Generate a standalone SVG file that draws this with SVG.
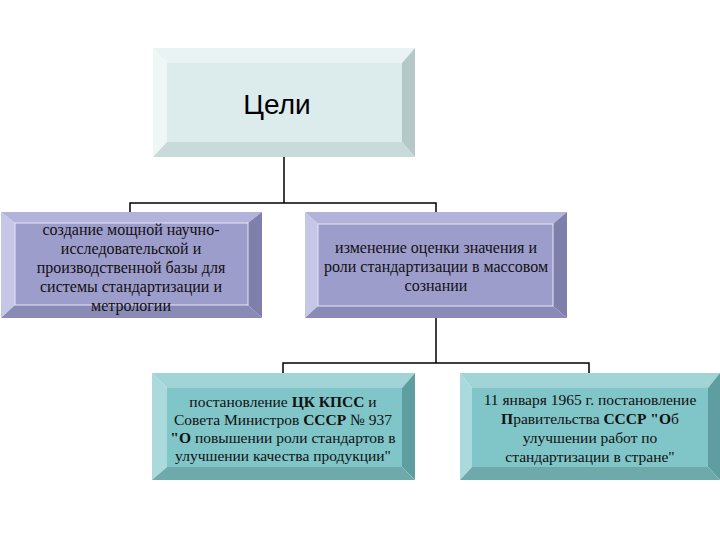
<svg xmlns="http://www.w3.org/2000/svg" width="720" height="540" viewBox="0 0 720 540">
<style>
.t{font-family:"Liberation Serif","Times New Roman",serif;font-size:16px;fill:#111;text-anchor:middle}
.s{font-size:15.5px}
.b{font-weight:bold}
.c{stroke:#000;stroke-width:1.5;fill:none}
.g .f{fill:#dcebeb}.g .tp{fill:#e9f3f3}.g .l{fill:#eef6f6}.g .r{fill:#b4c8c8}.g .bt{fill:#c8dada}
.p .f{fill:#9d9dcc;stroke:#e6e6f6;stroke-width:1}.p .tp{fill:#b2b2da}.p .l{fill:#c6c6e6}.p .r{fill:#7f7fab}.p .bt{fill:#8a8ab6}
.q .f{fill:#80c5c8}.q .tp{fill:#a0d4d6}.q .l{fill:#aadadc}.q .r{fill:#5f9ea0}.q .bt{fill:#6eaaac}
</style>
<g id="connectors">
<path class="c" d="M284,157 V203 M130,212 V203 H436 V212"/>
<path class="c" d="M436,318 V363 M283,373 V363 H589 V373"/>
</g>
<g id="goals" class="g">
<polygon class="tp" points="153,48 415,48 402,63 167,63"/>
<polygon class="l" points="153,48 167,63 167,142 153,157"/>
<polygon class="r" points="415,48 415,157 402,142 402,63"/>
<polygon class="bt" points="153,157 167,142 402,142 415,157"/>
<rect class="f" x="167" y="63" width="235" height="79"/>
<text x="277" y="114" style="font-family:'Liberation Sans',Arial,sans-serif;font-size:28px;fill:#000" text-anchor="middle">Цели</text>
</g>
<g id="base" class="p">
<polygon class="tp" points="1,212 262,212 248,223 15,223"/>
<polygon class="l" points="1,212 15,223 15,305 1,318"/>
<polygon class="r" points="262,212 262,318 248,305 248,223"/>
<polygon class="bt" points="1,318 15,305 248,305 262,318"/>
<rect class="f" x="15" y="223" width="233" height="82"/>
<text class="t"><tspan x="131" y="235">создание мощной научно-</tspan><tspan x="131" y="254">исследовательской и</tspan><tspan x="131" y="273">производственной базы для</tspan><tspan x="131" y="292">системы  стандартизации и</tspan><tspan x="131" y="311">метрологии</tspan></text>
</g>
<g id="attitude" class="p">
<polygon class="tp" points="305,212 567,212 553,224 318,224"/>
<polygon class="l" points="305,212 318,224 318,306 305,318"/>
<polygon class="r" points="567,212 567,318 553,306 553,224"/>
<polygon class="bt" points="305,318 318,306 553,306 567,318"/>
<rect class="f" x="318" y="224" width="235" height="82"/>
<text class="t"><tspan x="436" y="253">изменение оценки значения и</tspan><tspan x="436" y="272">роли стандартизации в массовом</tspan><tspan x="436" y="291">сознании</tspan></text>
</g>
<g id="decree1" class="q">
<polygon class="tp" points="152,373 415,373 402,388 167,388"/>
<polygon class="l" points="152,373 167,388 167,467 152,480"/>
<polygon class="r" points="415,373 415,480 402,467 402,388"/>
<polygon class="bt" points="152,480 167,467 402,467 415,480"/>
<rect class="f" x="167" y="388" width="235" height="79"/>
<text class="t s"><tspan x="283" y="407">постановление <tspan class="b">ЦК КПСС</tspan> и</tspan><tspan x="283" y="425">Совета Министров <tspan class="b">СССР</tspan> № 937</tspan><tspan x="283" y="443"><tspan class="b">"О</tspan> повышении роли стандартов в</tspan><tspan x="283" y="461">улучшении качества продукции"</tspan></text>
</g>
<g id="decree2" class="q">
<polygon class="tp" points="460,373 720,373 708,388 472,388"/>
<polygon class="l" points="460,373 472,388 472,467 460,480"/>
<polygon class="r" points="720,373 720,480 708,467 708,388"/>
<polygon class="bt" points="460,480 472,467 708,467 720,480"/>
<rect class="f" x="472" y="388" width="236" height="79"/>
<text class="t s"><tspan x="590" y="405">11 января 1965 г. постановление</tspan><tspan x="590" y="424"><tspan class="b">П</tspan>равительства <tspan class="b">СССР "О</tspan>б</tspan><tspan x="590" y="443">улучшении работ по</tspan><tspan x="590" y="462">стандартизации в стране"</tspan></text>
</g>
</svg>
